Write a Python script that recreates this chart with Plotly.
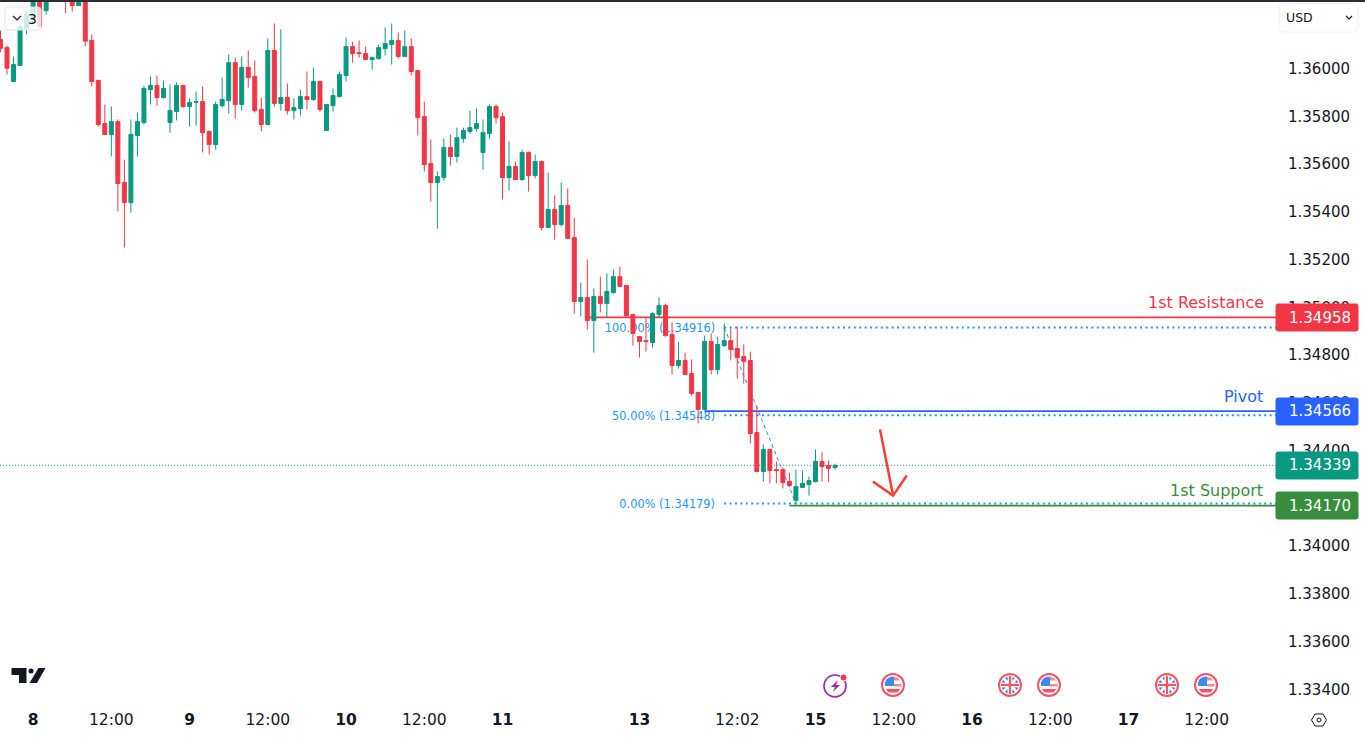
import plotly.graph_objects as go

W, H = 1365, 737
GREEN = '#089981'
RED = '#F23645'
BLUE = '#2962FF'
FIB = '#2196F3'
SUPPORT = '#388E3C'
TEXT = '#131722'
FONT = 'DejaVu Sans'

# hourly candles, left to right
opens = [
    1.36122, 1.36088, 1.35946, 1.36013, 1.36166, 1.36204, 1.36292, 1.36243, 1.3633, 1.3637,
    1.3636, 1.3634, 1.36264, 1.3632, 1.36118, 1.3595, 1.3577, 1.35724, 1.35778, 1.35523,
    1.35439, 1.3572, 1.35774, 1.35912, 1.35929, 1.35879, 1.35774, 1.3582, 1.35929, 1.35841,
    1.35859, 1.35862, 1.35737, 1.35682, 1.35845, 1.35866, 1.36025, 1.3585, 1.36005, 1.35967,
    1.35829, 1.35766, 1.36076, 1.35854, 1.35879, 1.35824, 1.35833, 1.35883, 1.35871, 1.35946,
    1.35741, 1.35845, 1.35883, 1.35971, 1.36092, 1.36067, 1.36063, 1.36038, 1.36042, 1.36084,
    1.36101, 1.36118, 1.36051, 1.36092, 1.35992, 1.35799, 1.35603, 1.35523, 1.35544, 1.3567,
    1.35632, 1.35707, 1.35737, 1.35749, 1.35649, 1.35728, 1.35841, 1.35799, 1.35544, 1.3559,
    1.35535, 1.35649, 1.35552, 1.35611, 1.35335, 1.3541, 1.35347, 1.35427, 1.35293, 1.35025,
    1.35042, 1.34945, 1.35046, 1.35016, 1.35062, 1.35129, 1.35092, 1.3497, 1.34878, 1.34861,
    1.34853, 1.3497, 1.35008, 1.34887, 1.34757, 1.34778, 1.34723, 1.34644, 1.34573, 1.34857,
    1.3474, 1.3484, 1.34861, 1.34828, 1.34794, 1.34778, 1.34476, 1.34313, 1.34405, 1.34321,
    1.34321, 1.34271, 1.34192, 1.34246, 1.34259, 1.34271, 1.34355, 1.34338, 1.3433,
]
highs = [
    1.36159, 1.36097, 1.36051, 1.36187, 1.36243, 1.36327, 1.3632, 1.36313, 1.364, 1.364,
    1.364, 1.3636, 1.3634, 1.3634, 1.36143, 1.35954, 1.3585, 1.35841, 1.35787, 1.35619,
    1.35787, 1.35816, 1.35929, 1.35967, 1.35971, 1.3595, 1.35933, 1.35942, 1.35933, 1.35875,
    1.35904, 1.35925, 1.35741, 1.35862, 1.35963, 1.36059, 1.36046, 1.36051, 1.36076, 1.36034,
    1.35879, 1.36126, 1.36189, 1.36164, 1.35938, 1.35875, 1.35912, 1.35988, 1.36005, 1.3595,
    1.3585, 1.35917, 1.35988, 1.3613, 1.36113, 1.36118, 1.36092, 1.36051, 1.36101, 1.36172,
    1.36189, 1.36151, 1.36159, 1.36126, 1.35992, 1.35862, 1.35703, 1.35569, 1.35707, 1.35724,
    1.35753, 1.35753, 1.35824, 1.35833, 1.35787, 1.3585, 1.3585, 1.35816, 1.35695, 1.35611,
    1.35661, 1.35653, 1.3564, 1.35615, 1.35565, 1.35469, 1.35523, 1.35498, 1.35376, 1.35104,
    1.35201, 1.35079, 1.35129, 1.35142, 1.35159, 1.35171, 1.35092, 1.34974, 1.34878, 1.34954,
    1.34979, 1.35042, 1.35016, 1.34937, 1.34857, 1.34811, 1.34782, 1.34644, 1.34882, 1.34891,
    1.34878, 1.34933, 1.34912, 1.3492, 1.34845, 1.34815, 1.34589, 1.34426, 1.34405, 1.34355,
    1.3433, 1.34309, 1.34321, 1.34317, 1.34292, 1.34405, 1.34393, 1.34359, 1.34346,
]
lows = [
    1.36069, 1.35975, 1.35946, 1.36013, 1.36143, 1.3618, 1.36171, 1.36226, 1.3632, 1.3632,
    1.36232, 1.36239, 1.36264, 1.36094, 1.35926, 1.35757, 1.35724, 1.35632, 1.35402, 1.35251,
    1.35397, 1.35632, 1.35766, 1.3585, 1.35845, 1.35875, 1.35732, 1.35783, 1.35837, 1.35757,
    1.35762, 1.35649, 1.3564, 1.35661, 1.35837, 1.35812, 1.35791, 1.35824, 1.35921, 1.35816,
    1.35737, 1.35762, 1.35841, 1.35824, 1.35808, 1.35787, 1.35804, 1.35829, 1.35866, 1.3582,
    1.35741, 1.3582, 1.35879, 1.35946, 1.36025, 1.36046, 1.36038, 1.35996, 1.36038, 1.36055,
    1.36017, 1.36042, 1.36051, 1.35971, 1.3572, 1.35569, 1.35443, 1.3533, 1.35531, 1.35594,
    1.35607, 1.3569, 1.35728, 1.35737, 1.35577, 1.35707, 1.3577, 1.35452, 1.3549, 1.35535,
    1.35531, 1.35485, 1.3554, 1.35322, 1.35335, 1.35284, 1.35339, 1.35289, 1.34974, 1.34962,
    1.34907, 1.34811, 1.34979, 1.34958, 1.35058, 1.35088, 1.34962, 1.3484, 1.3479, 1.34815,
    1.34832, 1.34958, 1.34878, 1.34719, 1.34744, 1.34719, 1.34631, 1.34514, 1.34568, 1.34719,
    1.34719, 1.34836, 1.34778, 1.34702, 1.34681, 1.3443, 1.34309, 1.34271, 1.34263, 1.34263,
    1.34242, 1.3425, 1.34175, 1.34246, 1.34212, 1.34267, 1.34271, 1.34271, 1.34321,
]
closes = [
    1.36085, 1.36002, 1.36017, 1.36176, 1.36229, 1.36299, 1.36176, 1.36292, 1.3637, 1.3634,
    1.3632, 1.36264, 1.3632, 1.36115, 1.35946, 1.35766, 1.35724, 1.35778, 1.35519, 1.35439,
    1.35724, 1.35778, 1.35917, 1.35929, 1.35879, 1.35917, 1.35824, 1.35929, 1.35841, 1.35858,
    1.35862, 1.35732, 1.35682, 1.3585, 1.35871, 1.36025, 1.3585, 1.36005, 1.35963, 1.35824,
    1.35766, 1.36076, 1.35854, 1.35879, 1.35824, 1.35837, 1.35883, 1.35871, 1.35946, 1.35829,
    1.3585, 1.35887, 1.35975, 1.36092, 1.36063, 1.36063, 1.36038, 1.36046, 1.36088, 1.36105,
    1.36118, 1.36051, 1.36092, 1.35988, 1.35795, 1.35598, 1.35523, 1.35548, 1.3567, 1.35632,
    1.35711, 1.35741, 1.35753, 1.3577, 1.35732, 1.35841, 1.35795, 1.35544, 1.3559, 1.35535,
    1.35649, 1.35552, 1.35611, 1.35335, 1.3541, 1.35347, 1.35427, 1.35289, 1.35025, 1.35042,
    1.34945, 1.35046, 1.35016, 1.35067, 1.35129, 1.35088, 1.34966, 1.34891, 1.34857, 1.34857,
    1.34974, 1.35008, 1.34882, 1.34757, 1.34778, 1.34719, 1.3464, 1.34573, 1.34857, 1.3474,
    1.34845, 1.34861, 1.34824, 1.3479, 1.34774, 1.34472, 1.34313, 1.34405, 1.34317, 1.34317,
    1.34267, 1.34254, 1.3425, 1.34263, 1.34275, 1.34355, 1.34334, 1.34326, 1.34338,
]
candle_x = list(range(len(opens)))

time_pos = [5, 17, 29, 41, 53, 65, 77, 98, 113, 125, 137, 149, 161, 173, 185]
time_labels = ['<b>8</b>', '12:00', '<b>9</b>', '12:00', '<b>10</b>', '12:00', '<b>11</b>', '<b>13</b>',
               '12:02', '<b>15</b>', '12:00', '<b>16</b>', '12:00', '<b>17</b>', '12:00']
price_ticks = [1.334, 1.336, 1.338, 1.340, 1.342, 1.344, 1.346, 1.348, 1.350, 1.352, 1.354, 1.356, 1.358, 1.360]

resistance, pivot, support, last_price = 1.34958, 1.34566, 1.34170, 1.34339
fib_levels = [1.34916, 1.34548, 1.34179]
fib_names = ['100.00% (1.34916)', '50.00% (1.34548)', '0.00% (1.34179)']
fib_start = 111
fib_label_end = 109.6
swing_x = [111, 122]
swing_y = [1.34916, 1.34179]
arrow_x = [134.9, 136.9, 133.8, 136.9, 139.0]
arrow_y = [1.34489, 1.34212, 1.34271, 1.34212, 1.34296]

x_end = 195.63
PLOT_RIGHT = 1276
PLOT_BOTTOM = 706


def px(x):
    return x / W


def py(y):
    return 1 - y / H


def page_path(points, fill=None, line=None, width=1):
    # shape in screen pixels, used for the toolbar and logo bits
    d = 'M' + ' L'.join(f'{px(a):.5f},{py(b):.5f}' for a, b in points)
    return dict(type='path', xref='paper', yref='paper', path=d + (' Z' if fill else ''),
                fillcolor=fill, line=dict(color=line or 'rgba(0,0,0,0)', width=width if line else 0), layer='above')


def page_box(x0, y0, x1, y1, fill, line=None, width=1, kind='rect'):
    return dict(type=kind, xref='paper', yref='paper', x0=px(x0), x1=px(x1), y0=py(y0), y1=py(y1),
                fillcolor=fill, line=dict(color=line or 'rgba(0,0,0,0)', width=width if line else 0), layer='above')


def rounded(x0, y0, x1, y1, r, fill, line):
    d = (f'M{px(x0 + r)},{py(y0)} L{px(x1 - r)},{py(y0)} Q{px(x1)},{py(y0)} {px(x1)},{py(y0 + r)} '
         f'L{px(x1)},{py(y1 - r)} Q{px(x1)},{py(y1)} {px(x1 - r)},{py(y1)} L{px(x0 + r)},{py(y1)} '
         f'Q{px(x0)},{py(y1)} {px(x0)},{py(y1 - r)} L{px(x0)},{py(y0 + r)} Q{px(x0)},{py(y0)} {px(x0 + r)},{py(y0)} Z')
    return dict(type='path', xref='paper', yref='paper', path=d, fillcolor=fill,
                line=dict(color=line, width=1), layer='above')


def page_text(x, y, text, size, color, anchor='center'):
    return dict(x=px(x), y=py(y), xref='paper', yref='paper', text=text, xanchor=anchor, yanchor='middle',
                showarrow=False, font=dict(family=FONT, size=size, color=color))


def us_flag(cx, cy):
    out = [page_box(cx - 11, cy - 11, cx + 11, cy + 11, '#ffffff', '#F7525F', 2, 'circle')]
    out.append(page_path([(cx - 8, cy + 1.5), (cx + 8.7, cy + 1.5), (cx + 8.4, cy - 1), (cx + 1, cy - 1), (cx + 1, cy + 1.5)], '#F7868F'))
    out.append(page_path([(cx - 7.2, cy + 4), (cx + 7.2, cy + 4), (cx + 4.5, cy + 7.4), (cx - 4.5, cy + 7.4)], '#F7525F'))
    out.append(page_path([(cx + 1, cy - 8), (cx + 4.5, cy - 7.2), (cx + 7, cy - 4.4), (cx + 1, cy - 4.4)], '#F7868F'))
    out.append(page_path([(cx - 7.8, cy + 1), (cx - 8.3, cy - 2), (cx - 6.4, cy - 6), (cx - 2.5, cy - 8.3), (cx + 1, cy - 8.5), (cx + 1, cy + 1)], '#3D8BF2'))
    return out


def uk_flag(cx, cy):
    out = [page_box(cx - 11, cy - 11, cx + 11, cy + 11, '#ffffff', '#F7525F', 2, 'circle')]
    out.append(page_box(cx - 8.6, cy - 8.6, cx + 8.6, cy + 8.6, '#2F6DD0', None, 1, 'circle'))
    out.append(page_path([(cx - 6.5, cy - 6.5), (cx + 6.5, cy + 6.5)], None, '#ffffff', 3))
    out.append(page_path([(cx + 6.5, cy - 6.5), (cx - 6.5, cy + 6.5)], None, '#ffffff', 3))
    out.append(page_path([(cx - 9, cy), (cx + 9, cy)], None, '#ffffff', 5))
    out.append(page_path([(cx, cy - 9), (cx, cy + 9)], None, '#ffffff', 5))
    out.append(page_path([(cx - 9, cy), (cx + 9, cy)], None, '#F7525F', 2.2))
    out.append(page_path([(cx, cy - 9), (cx, cy + 9)], None, '#F7525F', 2.2))
    return out


fig = go.Figure()
fig.add_trace(go.Candlestick(
    x=candle_x, open=opens, high=highs, low=lows, close=closes,
    increasing=dict(line=dict(color=GREEN, width=1), fillcolor=GREEN),
    decreasing=dict(line=dict(color=RED, width=1), fillcolor=RED),
    whiskerwidth=0, hoverinfo='skip', showlegend=False,
))
fig.add_trace(go.Scatter(x=arrow_x, y=arrow_y, mode='lines', line=dict(color='#F44336', width=2.5),
                         hoverinfo='skip', showlegend=False))

shapes = []
# fib levels and the labels that sit under the candles
for level, name in zip(fib_levels, fib_names):
    shapes.append(dict(type='line', x0=fib_start, x1=x_end, y0=level, y1=level, layer='below',
                       line=dict(color=FIB, width=2, dash='2px,3.4px')))
    shapes.append(dict(type='line', x0=fib_label_end, x1=fib_start, y0=level, y1=level, layer='below',
                       line=dict(color='rgba(0,0,0,0)', width=0),
                       label=dict(text=name, textposition='start', xanchor='right', yanchor='middle',
                                  font=dict(family=FONT, size=11.4, color=FIB))))
shapes.append(dict(type='line', x0=swing_x[0], x1=swing_x[1], y0=swing_y[0], y1=swing_y[1], layer='below',
                   line=dict(color=FIB, width=1, dash='4px,3px')))
shapes.append(dict(type='line', x0=90, x1=x_end, y0=resistance, y1=resistance, layer='below', line=dict(color=RED, width=1.7)))
shapes.append(dict(type='line', x0=108, x1=x_end, y0=pivot, y1=pivot, layer='below', line=dict(color=BLUE, width=1.7)))
shapes.append(dict(type='line', x0=121, x1=x_end, y0=support, y1=support, layer='below', line=dict(color=SUPPORT, width=1.7)))
shapes.append(dict(type='line', x0=-1, x1=x_end, y0=last_price, y1=last_price, layer='below',
                   line=dict(color=GREEN, width=1, dash='1px,2px')))

# price tags on the axis
tags = [(resistance, 304, RED), (pivot, 398, BLUE), (last_price, 452, GREEN), (support, 492, SUPPORT)]
annotations = []
for value, top, color in tags:
    shapes.append(rounded(1276, top, 1358, top + 27, 2, color, color))
    annotations.append(page_text(1320, top + 13.5, f'{value:.5f}', 15, '#ffffff'))

for label, color, x_right, y_mid in [('1st Resistance', RED, 1266, 302), ('Pivot', BLUE, 1265, 396), ('1st Support', SUPPORT, 1265, 490)]:
    annotations.append(page_text(x_right, y_mid, label, 16, color, 'right'))

# top bar, buttons
shapes.append(page_box(0, 0, W, 2, '#2A2E39'))
shapes.append(rounded(5, 7, 41, 30, 3, 'rgba(255,255,255,0.8)', '#E0E3EB'))
shapes.append(page_path([(13, 16), (17, 20), (21, 16)], None, TEXT, 1.2))
annotations.append(page_text(32, 19, '3', 14, TEXT))
shapes.append(rounded(1279, 4, 1358, 32, 5, '#ffffff', '#EEF0F3'))
annotations.append(page_text(1284, 17, 'USD', 12.5, TEXT, 'left'))
shapes.append(page_path([(1346, 16), (1349, 19), (1352, 16)], None, TEXT, 1.2))

# logo, events, settings icon
shapes.append(page_path([(11.5, 668), (26.5, 668), (26.5, 683), (19, 683), (19, 675), (11.5, 675)], TEXT))
shapes.append(page_box(28.5, 668.5, 33.5, 673.5, TEXT, None, 1, 'circle'))
shapes.append(page_path([(38.5, 668), (45.5, 668), (37, 683), (29.5, 683)], TEXT))
shapes.append(page_box(824, 675, 846, 697, 'rgba(0,0,0,0)', '#9C27B0', 1.6, 'circle'))
shapes.append(page_path([(838, 680), (831, 687), (835, 687), (833, 692), (840, 685), (836, 685)], '#9C27B0'))
shapes.append(page_box(840, 674, 847, 681, RED, '#ffffff', 1, 'circle'))
for cx in [893, 1049, 1206]:
    shapes += us_flag(cx, 685)
for cx in [1010, 1167]:
    shapes += uk_flag(cx, 685)
shapes.append(page_path([(1311.5, 720), (1315, 714), (1323, 714), (1326.5, 720), (1323, 726), (1315, 726), (1311.5, 720)], None, TEXT, 1))
shapes.append(page_box(1317, 718, 1321, 722, 'rgba(0,0,0,0)', TEXT, 1, 'circle'))

fig.update_layout(
    width=W, height=H, margin=dict(l=0, r=0, t=0, b=0),
    paper_bgcolor='white', plot_bgcolor='white', boxgap=0.39, boxgroupgap=0, showlegend=False,
    shapes=shapes, annotations=annotations,
    xaxis=dict(domain=[0, PLOT_RIGHT / W], range=[-0.077, x_end], rangeslider=dict(visible=False),
               tickmode='array', tickvals=time_pos, ticktext=time_labels, ticks='', showgrid=False,
               zeroline=False, showline=False, ticklabelstandoff=2, tickfont=dict(family=FONT, size=15.5, color=TEXT)),
    yaxis=dict(domain=[1 - PLOT_BOTTOM / H, 1 - 2 / H], range=[1.33331, 1.36279], side='right',
               tickmode='array', tickvals=price_ticks, ticktext=[f'{p:.5f}' for p in price_ticks], ticks='',
               showgrid=False, zeroline=False, showline=False, ticklabelstandoff=11,
               tickfont=dict(family=FONT, size=15, color=TEXT)),
)
fig.write_html("out.html", config=dict(displayModeBar=False), post_script="document.body.style.margin='0';")
